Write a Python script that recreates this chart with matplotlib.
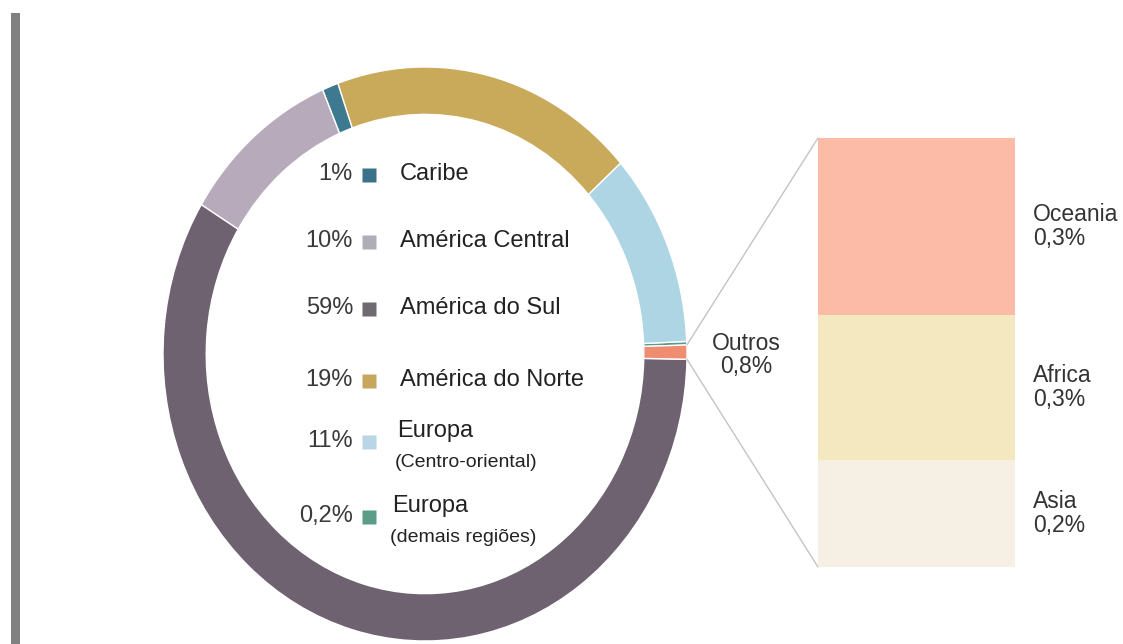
import matplotlib
matplotlib.use("Agg")
import matplotlib.pyplot as plt
from matplotlib.patches import ConnectionPatch, Rectangle

plt.rcParams["font.family"] = ["Liberation Sans", "DejaVu Sans"]

W, H = 1123, 644

# donut data, counter-clockwise from the right
regions = ["Europa (demais regiões)", "Europa (Centro-oriental)", "América do Norte",
           "Caribe", "América Central", "América do Sul", "Outros"]
shares = [0.2, 11, 19, 1, 10, 59, 0.8]
ring_colors = ["#5a9a8c", "#aed5e3", "#c9a95a", "#3d7a8f", "#b7abbb", "#6e6270", "#f08c70"]

# legend inside the donut (top to bottom)
leg_pct = ["1%", "10%", "59%", "19%", "11%", "0,2%"]
leg_name = ["Caribe", "América Central", "América do Sul", "América do Norte", "Europa", "Europa"]
leg_sub = ["", "", "", "", "(Centro-oriental)", "(demais regiões)"]
leg_colors = ["#3c7289", "#b1adb6", "#6f6a71", "#c7a75e", "#b9d5e6", "#5d9c88"]

# breakdown of "Outros"
outros_names = ["Oceania", "Africa", "Asia"]
outros_vals = [0.33, 0.27, 0.20]
outros_labels = ["0,3%", "0,3%", "0,2%"]
outros_colors = ["#fbbba6", "#f3e8bf", "#f6f0e4"]

fig = plt.figure(figsize=(W / 100, H / 100), dpi=100)
fig.patch.set_facecolor("white")

def px(x0, y0, w, h):
    return [x0 / W, 1 - (y0 + h) / H, w / W, h / H]

# ring
ax = fig.add_axes(px(163, 67, 524, 574))
wedges, _ = ax.pie(shares, colors=ring_colors, startangle=1.8, counterclock=True,
                   radius=1, wedgeprops=dict(width=0.165, edgecolor="white", linewidth=1))
ax.set_aspect("auto")
ax.set_xlim(-1, 1)
ax.set_ylim(-1, 1)
ax.axis("off")

# stacked bar for Outros
bx = fig.add_axes(px(818, 138, 197, 429))
bottom = 0
stack = list(zip(outros_names, outros_vals, outros_labels, outros_colors))[::-1]
for name, v, lab, c in stack:
    bx.bar(0, v, width=1, bottom=bottom, color=c, linewidth=0)
    bx.annotate(f"{name}\n{lab}", xy=(1, bottom + v / 2), xycoords=("axes fraction", "data"),
                xytext=(13, 0), textcoords="offset points", va="center", ha="left",
                fontsize=16.5, color="#333333", linespacing=1.05, annotation_clip=False)
    bottom += v
bx.set_xlim(-0.5, 0.5)
bx.set_ylim(0, bottom)
bx.axis("off")

# connector lines from the Outros wedge to the bar
import numpy as np
ow = wedges[-1]
for ang, corner in [(ow.theta2, (0, 1)), (ow.theta1, (0, 0))]:
    p = (np.cos(np.radians(ang)), np.sin(np.radians(ang)))
    fig.add_artist(ConnectionPatch(xyA=p, coordsA=ax.transData, xyB=corner,
                                   coordsB=bx.transAxes, color="#c4c4c4", lw=1))

# overlay in pixel coordinates for legend and decorations
ov = fig.add_axes([0, 0, 1, 1])
ov.set_xlim(0, W)
ov.set_ylim(H, 0)
ov.axis("off")
ov.patch.set_alpha(0)

ov.add_patch(Rectangle((11, 13), 9, H - 13, color="#808080", lw=0))

rows_y = [174, 241, 308, 380, 441, 516]
for i, y in enumerate(rows_y):
    ov.text(353, y, leg_pct[i], ha="right", va="center", fontsize=17, color="#3a3a3a")
    ov.plot(369, y + 1, "s", ms=10, color=leg_colors[i], mec="none")
    if leg_sub[i]:
        nx = 397 if i == 4 else 392
        ov.text(nx, y - 10, leg_name[i], ha="left", va="center", fontsize=17, color="#222222")
        ov.text(nx - 2, y + 21, leg_sub[i], ha="left", va="center", fontsize=14, color="#222222")
    else:
        ov.text(400, y, leg_name[i], ha="left", va="center", fontsize=17, color="#222222")

ov.text(746, 355, "Outros\n0,8%", ha="center", va="center", fontsize=16.5,
        color="#333333", linespacing=1.05)

fig.savefig("out.png", dpi=100, facecolor="white")
